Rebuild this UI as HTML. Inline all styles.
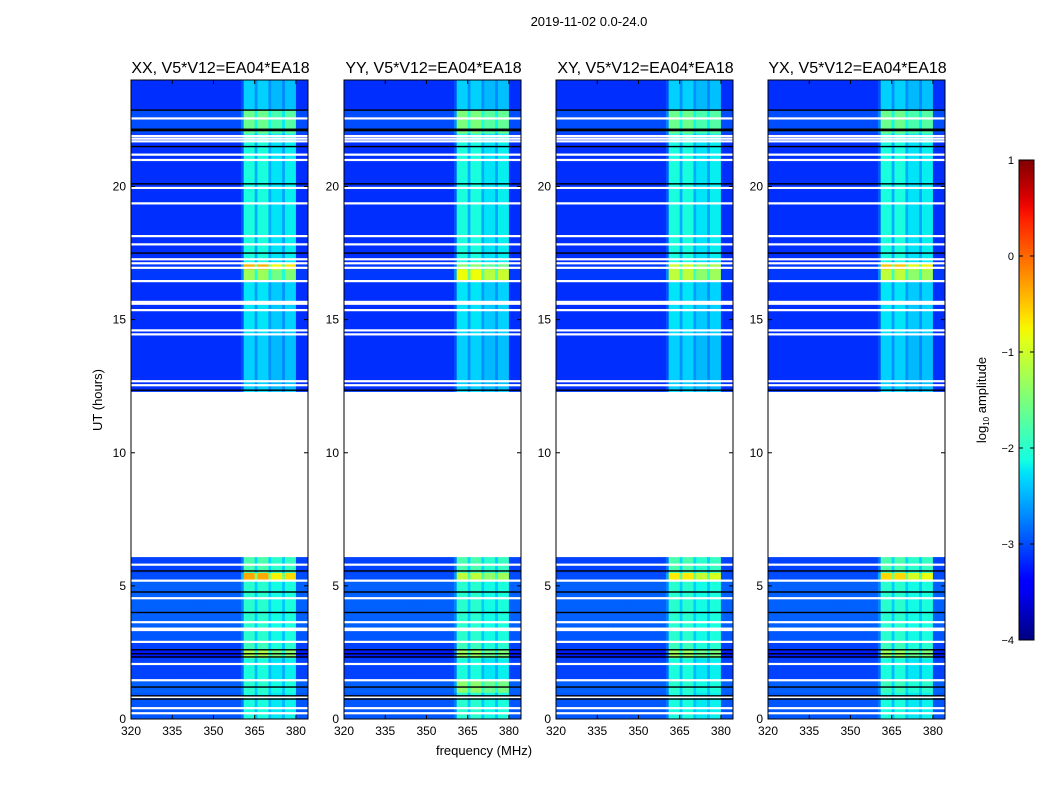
<!DOCTYPE html>
<html><head><meta charset="utf-8">
<style>
body{margin:0;background:#fff;}
svg{display:block;font-family:"Liberation Sans","DejaVu Sans",sans-serif;}
</style></head>
<body>
<svg id="chart" width="1050" height="800" viewBox="0 0 1050 800" xmlns="http://www.w3.org/2000/svg">
<rect x="0" y="0" width="1050" height="800" fill="#fff"/>
<text x="589" y="26" font-size="13" text-anchor="middle">2019-11-02 0.0-24.0</text>
<text x="102" y="400" font-size="13" text-anchor="middle" transform="rotate(-90 102 400)">UT (hours)</text>
<text x="484" y="755" font-size="13" text-anchor="middle">frequency (MHz)</text>
<g id="panels"></g>
<g id="cbar"></g>
<text x="986" y="400" font-size="13" text-anchor="middle" transform="rotate(-90 986 400)">log<tspan font-size="8" dy="3">10</tspan><tspan dy="-3"> amplitude</tspan></text>
</svg>
<script>
// ---- data ----
const panelTitles = ["XX, V5*V12=EA04*EA18","YY, V5*V12=EA04*EA18","XY, V5*V12=EA04*EA18","YX, V5*V12=EA04*EA18"];
const freqTicks = [320,335,350,365,380];
const timeTicks = [0,5,10,15,20];
const cbarTicks = [1,0,-1,-2,-3,-4];
// channel weights (1 MHz channels starting at 320 MHz): 0 = background, 1 = RFI band
const chanWeight = [0,0,0,0,0,0,0,0,0,0, 0,0,0,0,0,0,0,0,0,0, 0,0,0,0,0,0,0,0,0,0, 0,0,0,0,0,0,0,0,0,0,
  0.2,1,1,1,1,0.6,1,1,1,1, 0.6,0.85,0.85,0.85,0.85,0.55,0.9,0.9,0.9,0.9, 0,0,0,0,0];
// time segments (hours)
const segStart = [0,1.0,1.5,2.3,2.6,2.9,3.45,4.5,5.2,5.5,12.3,12.4,14.5,16.5,16.9,17.1,22.0,22.87];
const segEnd   = [1.0,1.5,2.3,2.6,2.9,3.3,4.5,5.2,5.5,6.08,12.4,14.5,16.5,16.9,17.1,22.0,22.87,24.0];
const bgLevel  = [-2.95,-2.9,-3.05,-3.25,-3.05,-2.95,-2.9,-2.9,-3.0,-3.05,-3.1,-3.15,-3.15,-3.1,-3.1,-3.15,-3.0,-3.15];
const bandXX   = [-2.1,-2.0,-2.1,-1.2,-1.9,-2.0,-2.0,-2.0,-0.35,-1.8,-2.3,-2.35,-2.25,-1.3,-0.4,-2.1,-1.6,-2.35];
const bandYY   = [-2.0,-1.4,-2.1,-1.3,-1.9,-2.0,-2.0,-2.0,-1.1,-1.8,-2.3,-2.35,-2.25,-0.8,-1.4,-2.1,-1.5,-2.35];
const bandXY   = [-2.1,-2.0,-2.1,-1.3,-1.9,-2.0,-2.0,-2.0,-0.7,-1.8,-2.3,-2.35,-2.25,-1.1,-1.0,-2.1,-1.6,-2.35];
const bandYX   = [-2.1,-1.9,-2.1,-1.3,-1.9,-2.0,-2.0,-2.0,-0.6,-1.8,-2.3,-2.35,-2.25,-1.1,-0.5,-2.1,-1.6,-2.35];
const whiteLines = [0.22,0.41,0.83,1.46,2.07,2.9,3.37,3.64,4.54,5.2,5.8,12.54,12.69,14.45,14.6,15.36,15.6,15.67,16.45,16.95,17.12,17.27,17.83,18.14,19.37,19.95,21.0,21.2,21.7,21.8,21.9,22.56];
const blackLines = [0.75,0.87,1.2,2.33,2.45,2.6,4.0,4.77,5.56,12.35,17.5,20.1,21.5,22.1,22.15,22.87];
// ---- layout ----
const panelX = [131,344,556,768], PW = 177, PT = 80, PB = 719;
const F0 = 320, F1 = 384.4, T0 = 0, T1 = 24;
const bands = [bandXX,bandYY,bandXY,bandYX];
function interp(x,pts){for(let i=1;i<pts.length;i++){if(x<=pts[i][0]){const a=pts[i-1],b=pts[i];return a[1]+(b[1]-a[1])*(x-a[0])/(b[0]-a[0]);}}return pts[pts.length-1][1];}
function jet(v){ // matplotlib jet, v in [-4,1]
  let x=(v+4)/5; x=Math.max(0,Math.min(1,x));
  const r=interp(x,[[0,0],[0.35,0],[0.66,1],[0.89,1],[1,0.5]]);
  const g=interp(x,[[0,0],[0.125,0],[0.375,1],[0.64,1],[0.91,0],[1,0]]);
  const b=interp(x,[[0,0.5],[0.11,1],[0.34,1],[0.65,0],[1,0]]);
  return `rgb(${Math.round(r*255)},${Math.round(g*255)},${Math.round(b*255)})`;
}
const NS="http://www.w3.org/2000/svg";
function mk(tag,attrs,parent){const e=document.createElementNS(NS,tag);for(const k in attrs)e.setAttribute(k,attrs[k]);parent.appendChild(e);return e;}
const root=document.getElementById('panels');
panelX.forEach((px,p)=>{
  const xs=f=>px+(f-F0)/(F1-F0)*PW;
  const ys=t=>PB-(t-T0)/(T1-T0)*(PB-PT);
  const g=mk('g',{},root);
  
  
  const band=bands[p];
  segStart.forEach((s,si)=>{
    const e=segEnd[si];
    chanWeight.forEach((w,ci)=>{
      const f0=F0+ci, f1=Math.min(F1,F0+ci+1); if(f0>=F1)return;
      const v=bgLevel[si]+w*(band[si]-bgLevel[si]);
      const r=mk('rect',{x:xs(f0).toFixed(2),y:ys(e).toFixed(2),width:(xs(f1)-xs(f0)+0.4).toFixed(2),height:(ys(s)-ys(e)+0.4).toFixed(2),fill:jet(v)},g);
      
      
    });
  });
  whiteLines.forEach(t=>{const l=mk('rect',{x:px,y:ys(t)-1,width:PW,height:2.2,fill:'#fff'},g);
    
    });
  blackLines.forEach(t=>{const l=mk('rect',{x:px,y:ys(t)-0.7,width:PW,height:1.4,fill:'#000'},g);
    
    });
  const fr=mk('rect',{x:px,y:PT,width:PW,height:PB-PT,fill:'none',stroke:'#000','stroke-width':1},g);
  
  
  const tt=mk('text',{x:px+PW/2+1,y:PT-7,'font-size':16,'text-anchor':'middle'},g);tt.textContent=panelTitles[p];
  
  
  freqTicks.forEach(f=>{const x=xs(f);
    mk('line',{x1:x,x2:x,y1:PB,y2:PB-4,stroke:'#000'},g);mk('line',{x1:x,x2:x,y1:PT,y2:PT+4,stroke:'#000'},g);
    const t=mk('text',{x:x,y:PB+16,'font-size':12,'text-anchor':'middle'},g);t.textContent=f;
    
    });
  timeTicks.forEach(h=>{const y=ys(h);
    mk('line',{x1:px,x2:px+4,y1:y,y2:y,stroke:'#000'},g);mk('line',{x1:px+PW,x2:px+PW-4,y1:y,y2:y,stroke:'#000'},g);
    const t=mk('text',{x:px-5,y:y+4,'font-size':12,'text-anchor':'end'},g);t.textContent=h;
    
    });
});
// colorbar
const cb=document.getElementById('cbar');
const CX=1019,CW=15,CT=160,CB=640;
const defs=mk('defs',{},cb);
const grad=mk('linearGradient',{id:'jetg',x1:0,y1:1,x2:0,y2:0},defs);
for(let i=0;i<=40;i++){mk('stop',{offset:i/40,'stop-color':jet(-4+5*i/40)},grad);}
const cr=mk('rect',{x:CX,y:CT,width:CW,height:CB-CT,fill:'url(#jetg)',stroke:'#000','stroke-width':1},cb);


cbarTicks.forEach(v=>{const y=CB-(v+4)/5*(CB-CT);
  mk('line',{x1:CX,x2:CX+4,y1:y,y2:y,stroke:'#000'},cb);mk('line',{x1:CX+CW,x2:CX+CW-4,y1:y,y2:y,stroke:'#000'},cb);
  const t=mk('text',{x:CX-5,y:y+4,'font-size':11,'text-anchor':'end'},cb);t.textContent=(v<0?'\u2212'+(-v):v);
  
  });
</script>
</body></html>
